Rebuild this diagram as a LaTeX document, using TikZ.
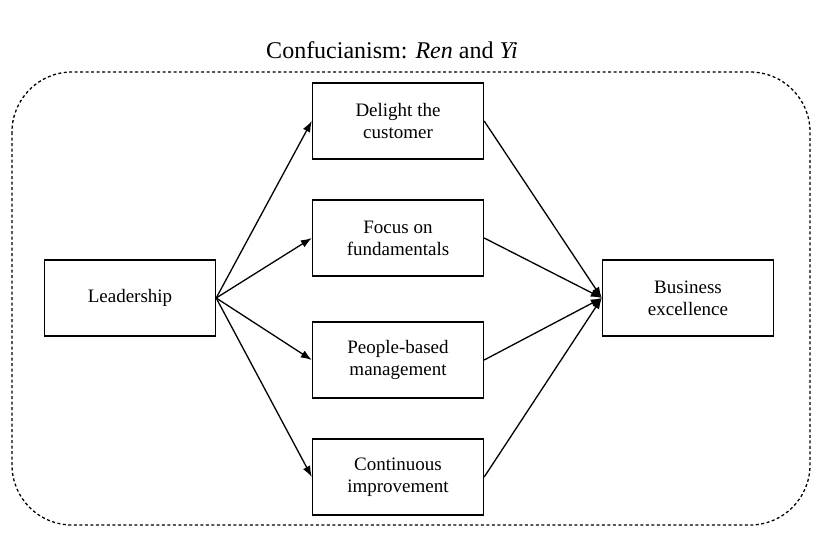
\documentclass[tikz,border=0pt]{standalone}
\usepackage{fontspec}
\setmainfont{Liberation Serif}
\usetikzlibrary{arrows.meta}
\begin{document}
\begin{tikzpicture}[x=1pt,y=-1pt,
  box/.style={draw,line width=1.4pt,minimum width=171pt,minimum height=76pt,align=center,font=\fontsize{19}{22}\selectfont,inner sep=0pt},
  arr/.style={-{Latex[length=11pt,width=8pt]},line width=1.3pt}]
\useasboundingbox (0,0) rectangle (820,538);
\draw[line width=1.3pt,dash pattern=on 3pt off 2.5pt,rounded corners=60pt] (12,72) rectangle (810,525);
\node[font=\fontsize{24}{26}\selectfont] (t) at (392,50) {Confucianism: \textit{Ren} and \textit{Yi}};
\node[box] (L) at (130,298) {Leadership};
\node[box] (D) at (398,121) {Delight the\\customer};
\node[box] (F) at (398,238) {Focus on\\fundamentals};
\node[box] (P) at (398,360) {People-based\\management};
\node[box] (C) at (398,477) {Continuous\\improvement};
\node[box] (B) at (688,298) {Business\\excellence};
\coordinate (Lo) at (L.east);
\coordinate (Bi) at (B.west);
\foreach \n in {D,F,P,C}{
  \draw[arr] (Lo) -- (\n.west);
  \draw[arr] (\n.east) -- (Bi);
}
\end{tikzpicture}
\end{document}
